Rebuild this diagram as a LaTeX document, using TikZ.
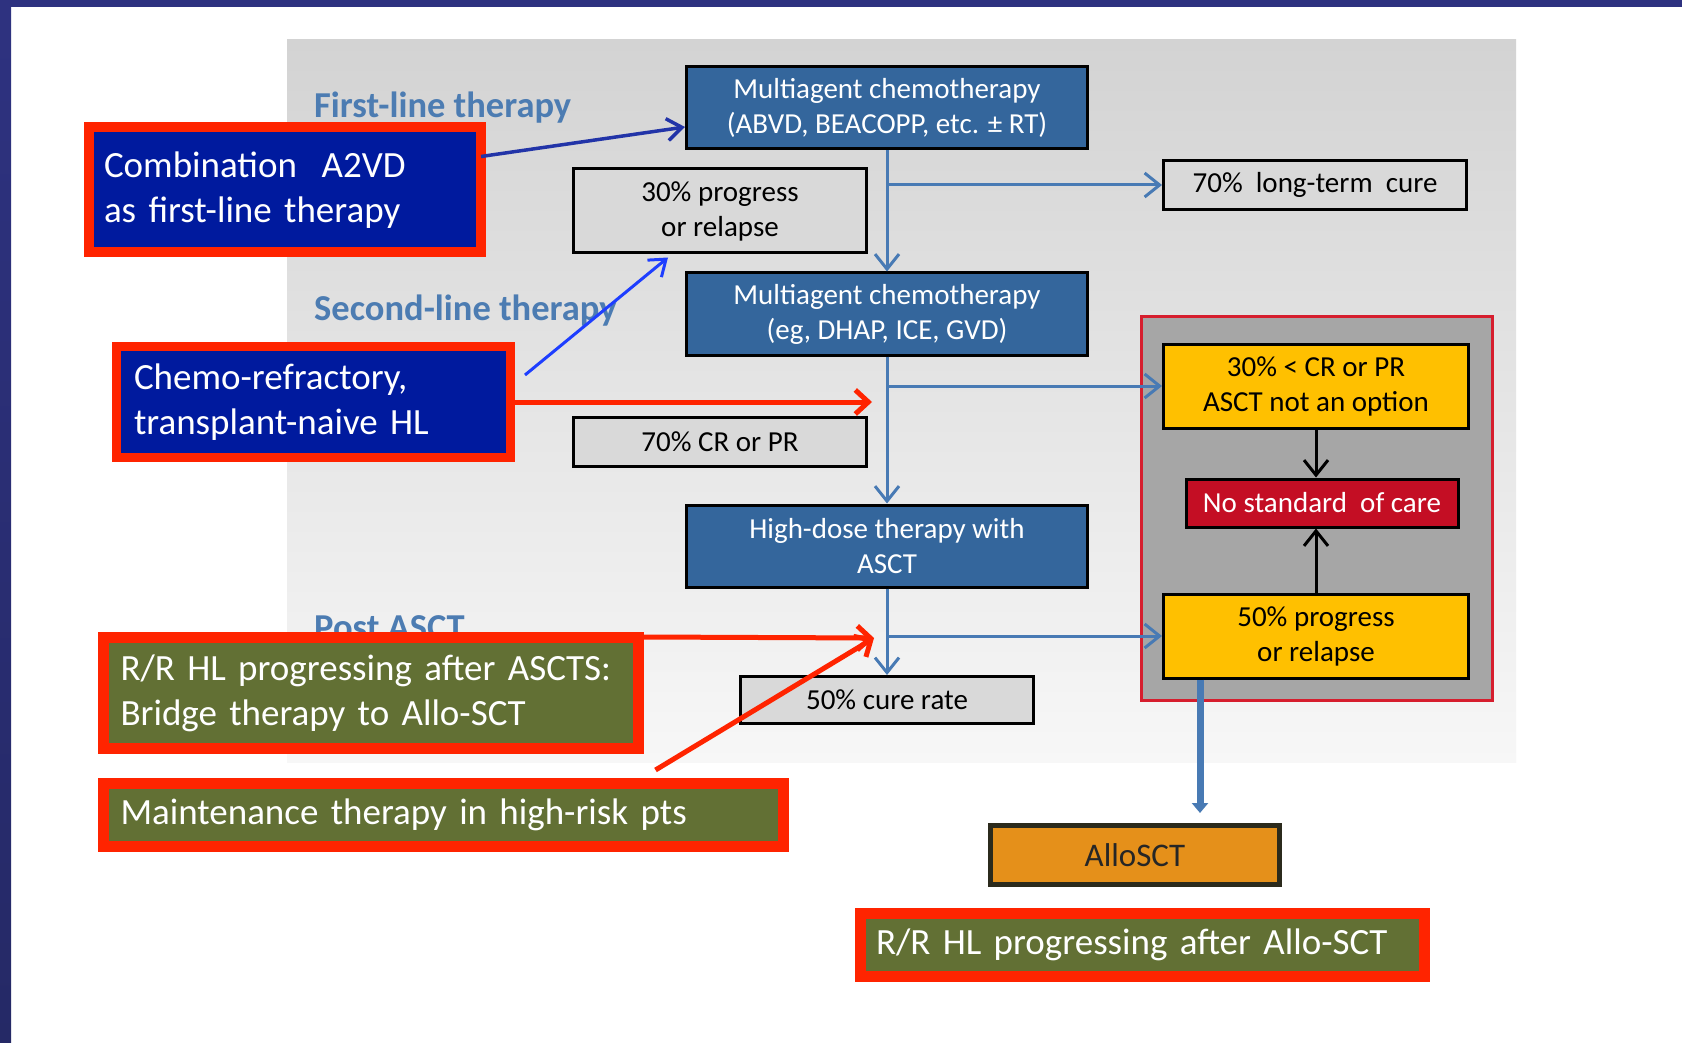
\documentclass[tikz,border=0pt]{standalone}
\usepackage{fontspec}
\setmainfont{Carlito}
\usetikzlibrary{calc,arrows.meta}
\definecolor{cNavy}{RGB}{46,50,128}
\definecolor{cNavyDk}{RGB}{37,41,102}
\definecolor{cPanTop}{RGB}{211,211,211}
\definecolor{cPanBot}{RGB}{247,247,247}
\definecolor{cMain}{RGB}{52,102,156}
\definecolor{cGrey}{RGB}{217,217,217}
\definecolor{cFlow}{RGB}{72,122,180}
\definecolor{cLbl}{RGB}{76,124,178}
\definecolor{cYel}{RGB}{255,192,0}
\definecolor{cCare}{RGB}{196,14,36}
\definecolor{cBox}{RGB}{166,166,166}
\definecolor{cBoxLine}{RGB}{214,30,46}
\definecolor{cAllo}{RGB}{229,144,26}
\definecolor{cAlloLine}{RGB}{43,42,28}
\definecolor{cHot}{RGB}{255,36,0}
\definecolor{cDeep}{RGB}{0,26,158}
\definecolor{cOlive}{RGB}{98,112,52}
\definecolor{cLinkA}{RGB}{34,52,168}
\definecolor{cLinkB}{RGB}{30,62,255}
\hyphenpenalty=10000

\begin{document}
\begin{tikzpicture}[
  x=1pt, y=-1pt,
  box/.style   = {draw=black, line width=3pt, align=center, inner sep=0pt,
                  font=\fontsize{29}{35}\selectfont},
  main/.style  = {box, fill=cMain, text=white, minimum width=401pt, minimum height=82pt},
  res/.style   = {box, fill=cGrey, minimum width=293pt},
  opt/.style   = {box, fill=cYel, minimum width=305pt, minimum height=84pt},
  hl/.style    = {draw=cHot, text=white, align=left, inner ysep=0pt,
                  font=\fontsize{37}{45}\selectfont},
  lbl/.style   = {text=cLbl, anchor=base west, inner sep=0pt,
                  font=\bfseries\fontsize{36.5}{40}\selectfont},
  flow/.style  = {draw=cFlow, line width=3pt, -{Straight Barb[length=15pt, width=24pt]}},
  blk/.style   = {draw=black, line width=3pt, -{Straight Barb[length=15pt, width=24pt]}},
  hit/.style   = {draw=cHot, line width=5pt, -{Straight Barb[length=13pt, width=24pt]}}
]
\useasboundingbox (0,0) rectangle (1682,1043);

% ------------------------------------------------------------ the slide --
\fill[white] (0,0) rectangle (1682,1043);
\fill[cNavy] (0,0) rectangle (1682,7);
\shade[top color=cNavy, bottom color=cNavyDk] (0,0) rectangle (11,1043);
\shade[top color=cPanTop, bottom color=cPanBot] (287,40) rectangle (1516,762);

\node[lbl] (first)  at (314,118) {First-line therapy};
\node[lbl] (second) at (314,320) {Second-line therapy};
\node[lbl] (post)   at (314,639) {Post ASCT};

% -------------------------------------------------------- main column --
\node[main]                                      (chemo1) at (887,108) {Multiagent chemotherapy\\(ABVD, BEACOPP, etc. ± RT)};
\node[res, minimum height=84pt]                  (prog1)  at (720,211) {30\% progress\\or relapse};
\node[res, minimum width=303pt, minimum height=49pt] (cure1) at (1315,185) {70\%\ \ long-term\ \ cure};
\node[main]                                      (chemo2) at (887,314) {Multiagent chemotherapy\\(eg, DHAP, ICE, GVD)};
\node[res, minimum height=49pt]                  (crpr)   at (720,442) {70\% CR or PR};
\node[main]                                      (hdt)    at (887,546) {High-dose therapy with\\ASCT};
\node[res, minimum height=47pt]                  (cure2)  at (887,700) {50\% cure rate};

% ------------------------------------------------------ no-ASCT block --
\node[draw=cBoxLine, line width=3pt, fill=cBox, minimum width=351pt, minimum height=384pt] (panel) at (1317,508) {};
\node[opt] (ynot)  at (1316,386) {30\% < CR or PR\\ASCT not an option};
\node[box, fill=cCare, text=white, minimum width=272pt, minimum height=48pt] (nsc) at (1322,503) {No standard\ \ of care};
\node[opt] (yprog) at (1316,636) {50\% progress\\or relapse};

\node[box, draw=cAlloLine, line width=5pt, fill=cAllo, text=black!85,
      minimum width=289pt, minimum height=59pt, font=\fontsize{33}{36}\selectfont] (allo) at (1135,855) {AlloSCT};

% ------------------------------------------------------------- arrows --
\draw[flow] (chemo1) -- (chemo2);
\draw[flow] (chemo2) -- (hdt);
\draw[flow] (hdt)    -- (cure2);
\draw[flow] (chemo1.south |- cure1.west) -- (cure1.west);
\draw[flow] (chemo2.south |- ynot.west)  -- (ynot.west);
\draw[flow] (hdt.south |- yprog.west)    -- (yprog.west);

\draw[blk] (ynot.south)  -- (ynot.south |- nsc.north);
\draw[blk] (yprog.north) -- (yprog.north |- nsc.south);

\coordinate (drop) at ($(yprog.south west)+(38,0)$);
\draw[draw=cFlow, line width=7pt, -{Triangle[length=10pt, width=16pt]}, shorten >=10pt]
  (drop) -- (drop |- allo.north);

% --------------------------------------------------- highlight boxes --
\node[hl, fill=cDeep, line width=10pt, text width=362pt, inner xsep=15pt, minimum height=125pt]
  (a2vd) at (285,190) {Combination\ \ A2VD\\as first-line therapy};
\node[hl, fill=cDeep, line width=9pt, text width=359pt, inner xsep=17.5pt, minimum height=111pt]
  (refr) at (313.5,402) {Chemo-refractory,\\transplant-naive HL};
\node[hl, fill=cOlive, line width=11pt, text width=501pt, inner xsep=17pt, minimum height=111pt]
  (bridge) at (371,693) {R/R HL progressing after ASCTS:\\Bridge therapy to Allo-SCT};
\node[hl, fill=cOlive, line width=11pt, text width=646pt, inner xsep=17pt, minimum height=63pt]
  (maint) at (443.5,815) {Maintenance therapy in high-risk pts};
\node[hl, fill=cOlive, line width=11pt, text width=533pt, inner xsep=15.5pt, minimum height=63pt]
  (after) at (1142.5,945) {R/R HL progressing after Allo-SCT};

% ------------------------------------------------ where they step in --
\coordinate (hit2) at (872,402);
\coordinate (hit3) at (874,638);
\draw[draw=cLinkA, line width=3.5pt, -{Straight Barb[length=15pt, width=22pt]}]
  ($(a2vd.north east)+(-5,34)$) -- ($(chemo1.west)+(0,19)$);
\draw[draw=cLinkB, line width=3pt, -{Straight Barb[length=15pt, width=22pt]}]
  ($(refr.north east)+(10,33)$) -- ($(prog1.south)+(-52,3)$);
\draw[hit] (refr.east) -- (hit2);
\draw[hit] ($(bridge.north east)+(0,5)$) -- (hit3);
\draw[hit] ($(maint.north)+(212,-8)$) -- (hit3);

\end{tikzpicture}
\end{document}
